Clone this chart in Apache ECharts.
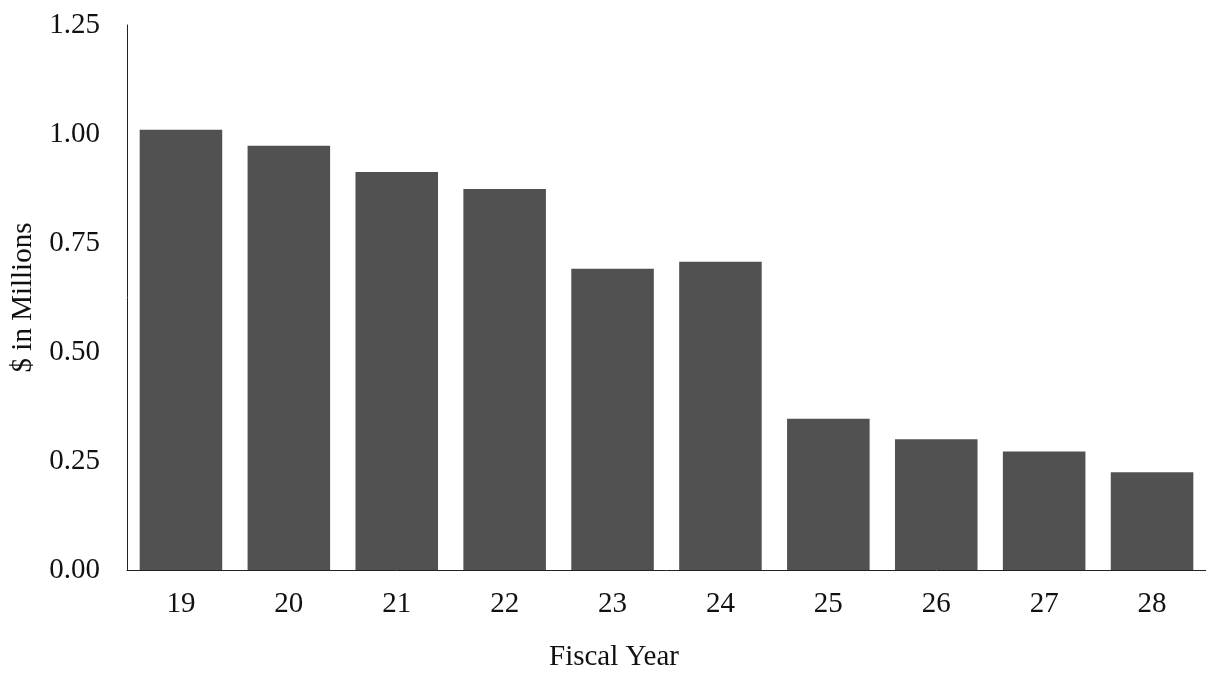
<!DOCTYPE html>
<html>
<head>
<meta charset="utf-8">
<script src="https://cdn.jsdelivr.net/npm/echarts@6/dist/echarts.min.js"></script>
<style>
html,body{margin:0;padding:0;background:#fff;}
#chart{width:1206px;height:675px;}
</style>
</head>
<body>
<div id="chart"></div>
<script>
var categories = ['19','20','21','22','23','24','25','26','27','28'];
var values = [1.01, 0.973, 0.913, 0.874, 0.691, 0.707, 0.347, 0.300, 0.272, 0.224];
var yTicks = [0, 0.25, 0.5, 0.75, 1.0, 1.25];
var xTitle = 'Fiscal Year';
var yTitle = '$ in Millions';

var chart = echarts.init(document.getElementById('chart'));
var font = '"Liberation Serif", "Times New Roman", serif';
chart.setOption({
  animation: false,
  backgroundColor: '#ffffff',
  grid: { left: 127, top: 25, width: 1086, bottom: 105, containLabel: false },
  xAxis: {
    type: 'category',
    data: categories,
    axisLine: { show: true, lineStyle: { color: '#222', width: 1 } },
    axisTick: { show: false },
    axisLabel: { color: '#111', fontFamily: font, fontSize: 29, margin: 20 }
  },
  yAxis: {
    type: 'value',
    min: yTicks[0],
    max: yTicks[yTicks.length - 1],
    interval: 0.25,
    name: yTitle,
    nameLocation: 'middle',
    nameGap: 88,
    nameRotate: 90,
    nameTextStyle: { color: '#111', fontFamily: font, fontSize: 29 },
    axisLine: { show: true, lineStyle: { color: '#222', width: 1 } },
    axisTick: { show: false },
    splitLine: { show: false },
    axisLabel: {
      color: '#111', fontFamily: font, fontSize: 29, margin: 27,
      formatter: function (v) { return v.toFixed(2); }
    }
  },
  graphic: [{
    type: 'text',
    x: 614, y: 657,
    style: {
      text: xTitle,
      fill: '#111',
      font: '29px ' + font,
      textAlign: 'center',
      textVerticalAlign: 'middle'
    }
  }],
  series: [{
    type: 'bar',
    data: values,
    barWidth: '76.5%',
    itemStyle: { color: '#515151' }
  }]
});
</script>
</body>
</html>
